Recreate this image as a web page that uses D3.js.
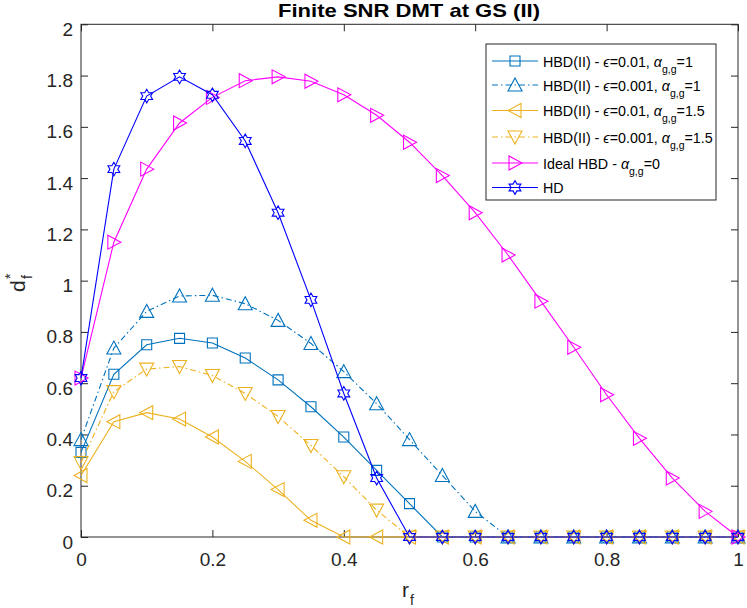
<!DOCTYPE html>
<html><head><meta charset="utf-8">
<script src="https://cdn.jsdelivr.net/npm/d3@7"></script>
<style>
body{margin:0;background:#fff;}
svg{display:block;font-family:"Liberation Sans",Arial,sans-serif;}
</style></head>
<body><svg id="chart" width="747" height="608"></svg>
<script>
const rf = [0,0.05,0.1,0.15,0.2,0.25,0.3,0.35,0.4,0.45,0.5,0.55,0.6,0.65,0.7,0.75,0.8,0.85,0.9,0.95,1];
const hbd001a1  = [0.33,0.635,0.75,0.775,0.757,0.698,0.613,0.508,0.39,0.26,0.13,0,0,0,0,0,0,0,0,0,0];
const hbd0001a1 = [0.38,0.737,0.88,0.94,0.943,0.91,0.845,0.755,0.645,0.52,0.38,0.24,0.1,0,0,0,0,0,0,0,0];
const hbd001a15 = [0.24,0.45,0.485,0.46,0.39,0.295,0.185,0.065,0,0,0,0,0,0,0,0,0,0,0,0,0];
const hbd0001a15= [0.29,0.567,0.655,0.665,0.63,0.56,0.47,0.357,0.235,0.105,0,0,0,0,0,0,0,0,0,0,0];
const idealHBD  = [0.62,1.15,1.435,1.615,1.715,1.78,1.795,1.778,1.725,1.645,1.54,1.41,1.265,1.1,0.92,0.74,0.555,0.385,0.23,0.1,0];
const hd        = [0.62,1.435,1.72,1.795,1.725,1.545,1.265,0.925,0.56,0.23,0,0,0,0,0,0,0,0,0,0,0];
const xTicks = [0,0.2,0.4,0.6,0.8,1];
const yTicks = [0,0.2,0.4,0.6,0.8,1,1.2,1.4,1.6,1.8,2];
const legendEps = ["0.01","0.001","0.01","0.001"];
const legendAlpha = ["1","1","1.5","1.5"];

const series = [
  {v:hbd001a1,  color:"#0072BD", dash:null, marker:"square", eps:legendEps[0], a:legendAlpha[0]},
  {v:hbd0001a1, color:"#0072BD", dash:"6,3,1.5,3", marker:"up", eps:legendEps[1], a:legendAlpha[1]},
  {v:hbd001a15, color:"#EDB120", dash:null, marker:"left", eps:legendEps[2], a:legendAlpha[2]},
  {v:hbd0001a15,color:"#EDB120", dash:"6,3,1.5,3", marker:"down", eps:legendEps[3], a:legendAlpha[3]},
  {v:idealHBD,  color:"#FF00FF", dash:null, marker:"right", ideal:true},
  {v:hd,        color:"#0000FF", dash:null, marker:"hex", hd:true}
];

const svg = d3.select("#chart");
const L=81, R=738, T=24.3, B=537;
const x = d3.scaleLinear().domain([0,1]).range([L,R]);
const y = d3.scaleLinear().domain([0,2]).range([B,T]);
const axisColor="#262626";

function markerPath(type){
  switch(type){
    case "square": return "M-5,-5H5V5H-5Z";
    case "up": return "M0,-7L7,6L-7,6Z";
    case "down": return "M0,7L7,-6L-7,-6Z";
    case "left": return "M-7,0L6,-7L6,7Z";
    case "right": return "M7,0L-6,-7L-6,7Z";
    case "hex": {
      const pts=[];
      for(let i=0;i<12;i++){
        const r = i%2===0?6.8:3.93;
        const a = (i*30-90)*Math.PI/180;
        pts.push([r*Math.cos(a), r*Math.sin(a)]);
      }
      return "M"+pts.map(p=>p[0].toFixed(2)+","+p[1].toFixed(2)).join("L")+"Z";
    }
  }
}

// axes
const fmt = d => String(+d.toFixed(1));
const gx = svg.append("g").attr("transform",`translate(0,${B})`)
  .call(d3.axisBottom(x).tickValues(xTicks).tickFormat(fmt).tickSizeInner(-7).tickSizeOuter(0));
gx.selectAll("text").attr("y",29).attr("dy",null).style("font-size","19px").attr("fill",axisColor);
const gy = svg.append("g").attr("transform",`translate(${L},0)`)
  .call(d3.axisLeft(y).tickValues(yTicks).tickFormat(fmt).tickSizeInner(-7).tickSizeOuter(0));
gy.selectAll("text").attr("x",-8).attr("y",11).attr("dy",null).style("font-size","19px").attr("fill",axisColor);
const gt = svg.append("g").attr("transform",`translate(0,${T})`)
  .call(d3.axisTop(x).tickValues(xTicks).tickFormat("").tickSizeInner(-7).tickSizeOuter(0));
const gr = svg.append("g").attr("transform",`translate(${R},0)`)
  .call(d3.axisRight(y).tickValues(yTicks).tickFormat("").tickSizeInner(-7).tickSizeOuter(0));
[gx,gy,gt,gr].forEach(g=>{
  g.select(".domain").remove();
  g.selectAll(".tick line").attr("stroke",axisColor).attr("stroke-width",1);
  g.attr("font-family",null).attr("font-size",null);
});
svg.append("rect").attr("x",L).attr("y",T).attr("width",R-L).attr("height",B-T)
  .attr("fill","none").attr("stroke",axisColor).attr("stroke-width",1);

// series
const line = d3.line().x((d,i)=>x(rf[i])).y(d=>y(d));
series.forEach(s=>{
  const g = svg.append("g");
  g.append("path").datum(s.v).attr("d",line).attr("fill","none")
    .attr("stroke",s.color).attr("stroke-width",1.1)
    .attr("stroke-dasharray",s.dash);
  g.selectAll("path.m").data(s.v).join("path").attr("class","m")
    .attr("transform",(d,i)=>`translate(${x(rf[i])},${y(d)})`)
    .attr("d",markerPath(s.marker)).attr("fill","none")
    .attr("stroke",s.color).attr("stroke-width",1.1);
});

// title
svg.append("text").attr("x",409).attr("y",17).attr("text-anchor","middle")
  .style("font-size","19px").style("font-weight","bold").attr("fill","#000")
  .attr("textLength",262).attr("lengthAdjust","spacingAndGlyphs")
  .text("Finite SNR DMT at GS (II)");

// axis labels
const xl = svg.append("g").attr("fill",axisColor);
xl.append("text").attr("x",402).attr("y",597).style("font-size","21px").text("r");
xl.append("text").attr("x",410).attr("y",605).style("font-size","14px").text("f");
const yl = svg.append("g").attr("transform","translate(25,292) rotate(-90)").attr("fill",axisColor);
yl.append("text").attr("x",0).attr("y",0).style("font-size","21px").text("d");
yl.append("text").attr("x",13).attr("y",7).style("font-size","14px").text("f");
yl.append("text").attr("x",13).attr("y",-10).style("font-size","14px").text("*");

// legend
const lg = svg.append("g");
lg.append("rect").attr("x",486).attr("y",44).attr("width",230).attr("height",156)
  .attr("fill","#fff").attr("stroke",axisColor).attr("stroke-width",1);
const rowsY = [61,85,110.5,137,163,187.5];
series.forEach((s,i)=>{
  const yy = rowsY[i];
  lg.append("line").attr("x1",492).attr("x2",538).attr("y1",yy).attr("y2",yy)
    .attr("stroke",s.color).attr("stroke-width",1.1).attr("stroke-dasharray",s.dash);
  lg.append("path").attr("transform",`translate(515,${yy})`).attr("d",markerPath(s.marker))
    .attr("fill","none").attr("stroke",s.color).attr("stroke-width",1.1);
  const t = lg.append("text").attr("x",543).attr("y",yy+5.5).style("font-size","14.3px").attr("fill","#000");
  if(s.hd){ t.text("HD"); return; }
  if(s.ideal){
    t.append("tspan").text("Ideal HBD - ");
  } else {
    t.append("tspan").text("HBD(II) - ");
    t.append("tspan").style("font-style","italic").text("ϵ");
    t.append("tspan").text("="+s.eps+", ");
  }
  t.append("tspan").style("font-style","italic").text("α");
  t.append("tspan").attr("dy",6).style("font-size","10.5px").text("g,g");
  t.append("tspan").attr("dy",-6).text("="+(s.ideal?"0":s.a));
});
</script></body></html>
